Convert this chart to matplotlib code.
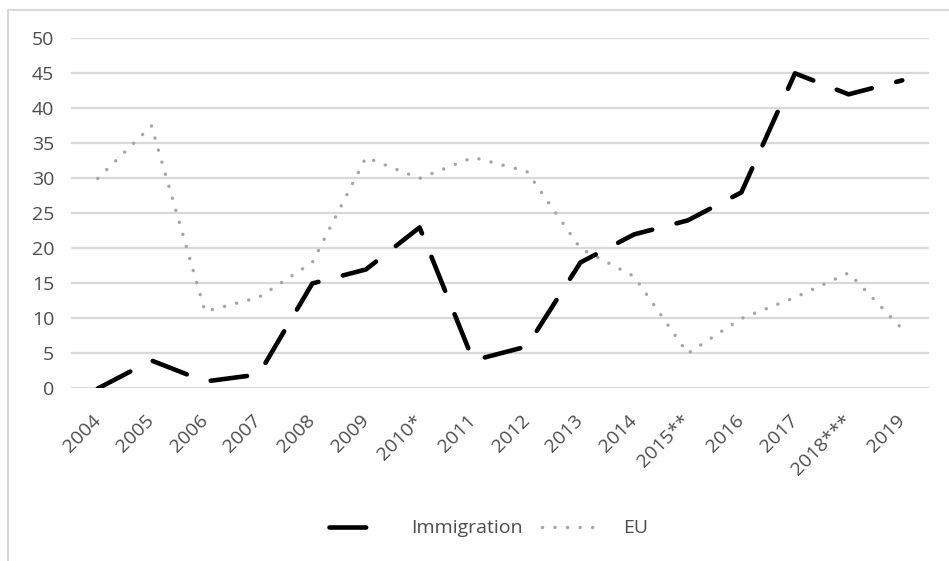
import matplotlib
matplotlib.use("Agg")
import matplotlib.pyplot as plt
from matplotlib.patches import Rectangle

# --- data --- #
years = ["2004", "2005", "2006", "2007", "2008", "2009", "2010*", "2011",
         "2012", "2013", "2014", "2015**", "2016", "2017", "2018***", "2019"]
immigration = [0, 4, 1, 2, 15, 17, 23, 4, 6, 18, 22, 24, 28, 45, 42, 44]
eu = [30, 37.5, 11, 13, 18, 33, 30, 33, 31, 20, 16, 5, 10, 13, 16.5, 8.5]
y_ticks = list(range(0, 51, 5))

TEXT_GREY = "#4d4d4d"
plt.rcParams["font.family"] = ["Open Sans", "DejaVu Sans"]

fig = plt.figure(figsize=(9.49, 5.61), dpi=100)
ax = fig.add_axes([0.0748, 0.3075, 0.9042, 0.6242])

x = list(range(len(years)))
ax.plot(x, immigration, color="black", lw=3.3, linestyle=(0, (8, 5.5)),
        dash_capstyle="round", solid_joinstyle="round", label="Immigration",
        zorder=3)
ax.plot(x, eu, color="#a6a6a6", lw=2.5, linestyle=(0, (0.01, 3.6)),
        dash_capstyle="round", label="EU", zorder=2)

ax.set_xlim(-0.5, len(years) - 0.5)
ax.set_ylim(0, 50)
ax.set_yticks(y_ticks)
ax.set_xticks(x)
ax.set_xticklabels(years, rotation=45, ha="right", va="center",
                   rotation_mode="anchor")
ax.tick_params(axis="both", length=0, labelsize=14, labelcolor=TEXT_GREY)
ax.tick_params(axis="y", pad=12)
ax.tick_params(axis="x", pad=21)
ax.grid(True, axis="y", color="#d9d9d9", lw=1.6)
ax.set_axisbelow(True)
for s in ax.spines.values():
    s.set_visible(False)

leg = fig.legend(loc="center", bbox_to_anchor=(0.515, 0.058), ncol=2,
                 frameon=False, fontsize=14, handlelength=3.0,
                 handletextpad=1.2, columnspacing=1.0)
for t in leg.get_texts():
    t.set_color(TEXT_GREY)

# outer chart frame
fig.add_artist(Rectangle((8 / 949, -0.01), 1.0, 1 - 10 / 561 + 0.01,
                         transform=fig.transFigure, fill=False,
                         edgecolor="#d9d9d9", lw=1.5))

fig.savefig("out.png", dpi=100)
